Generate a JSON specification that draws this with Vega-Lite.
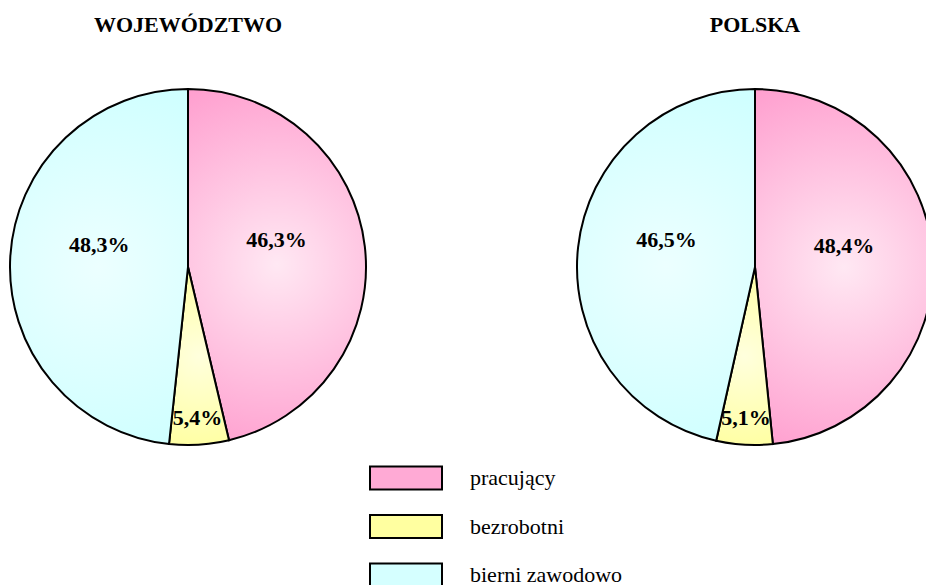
{
  "$schema": "https://vega.github.io/schema/vega-lite/v6.json",
  "padding": {"left": 0, "top": 14, "right": 0, "bottom": 0},
  "background": "white",
  "config": {
    "view": {"stroke": null},
    "locale": {"number": {"decimal": ",", "thousands": " ", "grouping": [3], "currency": ["", " zł"]}}
  },
  "data": {"values": [
    {"region": "WOJEWÓDZTWO", "cat": "pracujący", "share": 0.463},
    {"region": "WOJEWÓDZTWO", "cat": "bezrobotni", "share": 0.054},
    {"region": "WOJEWÓDZTWO", "cat": "bierni zawodowo", "share": 0.483},
    {"region": "POLSKA", "cat": "pracujący", "share": 0.484},
    {"region": "POLSKA", "cat": "bezrobotni", "share": 0.051},
    {"region": "POLSKA", "cat": "bierni zawodowo", "share": 0.465}
  ]},
  "transform": [
    {"calculate": "indexof(['pracujący','bezrobotni','bierni zawodowo'], datum.cat)", "as": "k"}
  ],
  "facet": {
    "column": {
      "field": "region", "type": "nominal", "sort": ["WOJEWÓDZTWO", "POLSKA"], "title": null,
      "header": {"labelFont": "Liberation Serif", "labelFontWeight": "bold", "labelFontSize": 22, "labelColor": "black", "labelPadding": 42}
    }
  },
  "spacing": 191,
  "spec": {
    "width": 376,
    "height": 376,
    "encoding": {
      "theta": {"field": "share", "type": "quantitative", "stack": true},
      "order": {"field": "k", "type": "quantitative"}
    },
    "layer": [
      {
        "mark": {"type": "arc", "radius": 178},
        "encoding": {
          "fill": {
            "field": "cat", "type": "nominal",
            "scale": {
              "domain": ["pracujący", "bezrobotni", "bierni zawodowo"],
              "range": ["#ffaad5", "#ffffa0", "#d5ffff"]
            },
            "legend": {
              "title": null, "orient": "none", "legendX": 387, "legendY": 380,
              "symbolType": "M-2,-0.64H2V0.64H-2Z", "symbolSize": 1296,
              "symbolStrokeColor": "black", "symbolStrokeWidth": 2, "symbolOpacity": 1,
              "labelFont": "Liberation Serif", "labelFontSize": 22, "labelColor": "black",
              "labelOffset": 45, "rowPadding": 13.5
            }
          }
        }
      },
      {
        "mark": {"type": "arc", "radius": 178, "stroke": "black", "strokeWidth": 2},
        "encoding": {
          "fill": {
            "condition": [
              {"test": "datum.cat === 'pracujący'", "value": {"gradient": "radial", "x1": 0.5, "y1": 0.5, "x2": 0.5, "y2": 0.5, "r1": 0, "r2": 0.6, "stops": [{"offset": 0, "color": "#ffe8f3"}, {"offset": 1, "color": "#ff99cc"}]}},
              {"test": "datum.cat === 'bezrobotni'", "value": {"gradient": "radial", "x1": 0.5, "y1": 0.5, "x2": 0.5, "y2": 0.5, "r1": 0, "r2": 0.6, "stops": [{"offset": 0, "color": "#ffffdd"}, {"offset": 1, "color": "#ffff99"}]}}
            ],
            "value": {"gradient": "radial", "x1": 0.5, "y1": 0.5, "x2": 0.5, "y2": 0.5, "r1": 0, "r2": 0.6, "stops": [{"offset": 0, "color": "#ecffff"}, {"offset": 1, "color": "#ccffff"}]}
          }
        }
      },
      {
        "mark": {"type": "text", "radius": 89, "dy": -17, "font": "Liberation Serif", "fontWeight": "bold", "fontSize": 22, "color": "black"},
        "encoding": {
          "text": {"condition": {"test": "datum.cat !== 'bezrobotni'", "field": "share", "type": "quantitative", "format": ".1%"}, "value": ""}
        }
      },
      {
        "mark": {"type": "text", "radius": 151, "font": "Liberation Serif", "fontWeight": "bold", "fontSize": 22, "color": "black"},
        "encoding": {
          "text": {"condition": {"test": "datum.cat === 'bezrobotni'", "field": "share", "type": "quantitative", "format": ".1%"}, "value": ""}
        }
      }
    ]
  }
}
